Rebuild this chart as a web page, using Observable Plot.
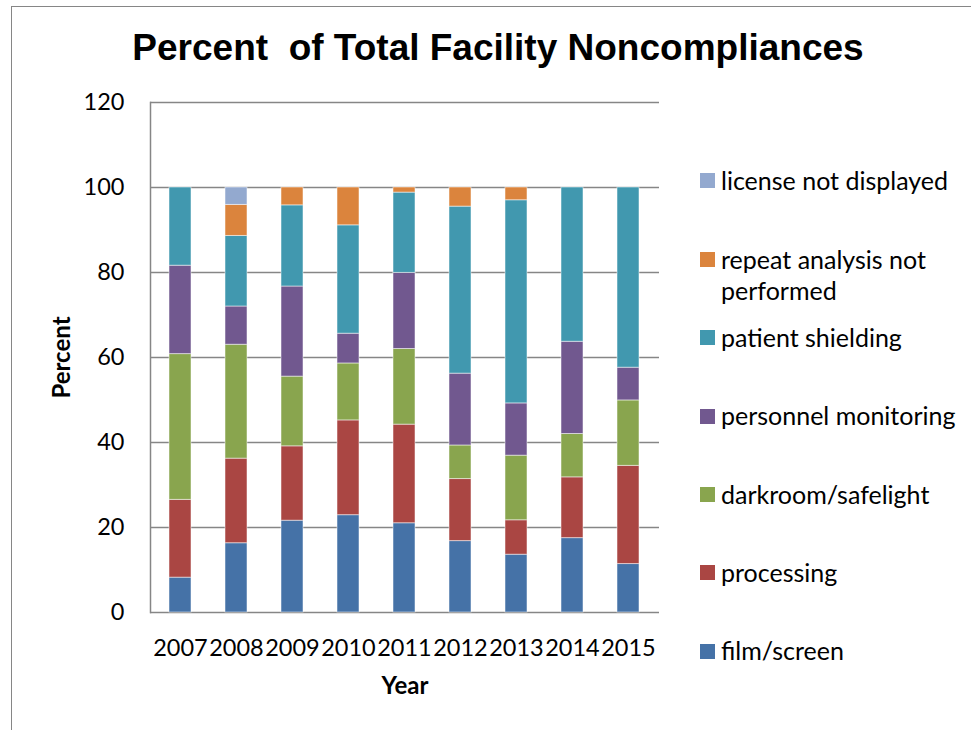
<!DOCTYPE html>
<html>
<head>
<meta charset="utf-8">
<script src="https://cdn.jsdelivr.net/npm/d3@7"></script>
<script src="https://cdn.jsdelivr.net/npm/@observablehq/plot@0.6"></script>
<style>
  html, body { margin: 0; padding: 0; background: #fff; }
  #wrap { position: relative; width: 971px; height: 730px; overflow: hidden; background: #fff; }
  #border { position: absolute; left: 11px; top: 6px; width: 1000px; height: 800px; border: 1.5px solid #868686; box-sizing: border-box; }
  #title { position: absolute; left: 0; width: 996px; top: 28.7px; text-align: center; font-family: "Liberation Sans", Arial, sans-serif; font-weight: bold; font-size: 37px; line-height: 37px; color: #000; white-space: nowrap; }
  #chart { position: absolute; left: 0; top: 0; }
  .leg { position: absolute; left: 700px; font-family: Lato, sans-serif; font-size: 25px; line-height: 31.4px; color: #000; white-space: pre; }
  .leg .sw { position: absolute; left: 0; top: 8.2px; width: 15px; height: 15px; }
  .leg .tx { position: absolute; left: 21px; top: 0; }
</style>
</head>
<body>
<div id="wrap">
  <div id="border"></div>
  <div id="title"></div>
  <div id="chart"></div>
</div>
<script>
const titleText = "Percent\u00a0 of Total Facility Noncompliances";
const years = ["2007", "2008", "2009", "2010", "2011", "2012", "2013", "2014", "2015"];
const seriesNames = ["film/screen", "processing", "darkroom/safelight", "personnel monitoring", "patient shielding", "repeat analysis not performed", "license not displayed"];
const legendLabels = ["license not displayed", "repeat analysis not\nperformed", "patient shielding", "personnel monitoring", "darkroom/safelight", "processing", "film/screen"];
const seriesColors = ["#4572A7", "#AA4643", "#89A54E", "#71588F", "#4198AF", "#DB843D", "#93A9CF"];
const yTicks = [0, 20, 40, 60, 80, 100, 120];

const filmScreen = [8.2, 16.3, 21.6, 22.9, 21.0, 16.8, 13.6, 17.5, 11.4];
const processing = [18.3, 19.9, 17.5, 22.3, 23.2, 14.6, 8.1, 14.3, 23.1];
const darkroom = [34.3, 26.8, 16.4, 13.4, 17.8, 7.9, 15.2, 10.2, 15.4];
const personnel = [20.8, 9.0, 21.2, 7.0, 17.9, 16.9, 12.3, 21.7, 7.7];
const shielding = [18.4, 16.6, 19.1, 25.5, 18.9, 39.3, 47.8, 36.3, 42.4];
const repeatAnalysis = [0, 7.3, 4.2, 8.9, 1.2, 4.5, 3.0, 0, 0];
const licenseNotDisplayed = [0, 4.1, 0, 0, 0, 0, 0, 0, 0];

const seriesValues = [filmScreen, processing, darkroom, personnel, shielding, repeatAnalysis, licenseNotDisplayed];
const rows = [];
seriesNames.forEach((s, i) => {
  years.forEach((y, j) => {
    if (seriesValues[i][j] > 0) rows.push({series: s, year: y, value: seriesValues[i][j]});
  });
});

document.getElementById("title").textContent = titleText;

const plot = Plot.plot({
  width: 971,
  height: 730,
  marginLeft: 150,
  marginRight: 312,
  marginTop: 102,
  marginBottom: 118,
  style: {fontFamily: "Lato, sans-serif", background: "transparent", color: "#000"},
  x: {domain: years, paddingInner: 0.6, paddingOuter: 0.3, axis: null},
  y: {domain: [0, 120], axis: null},
  color: {domain: seriesNames, range: seriesColors},
  marks: [
    Plot.gridY(yTicks, {stroke: "#868686", strokeOpacity: 1, strokeWidth: 1.5}),
    Plot.frame({anchor: "left", stroke: "#868686", strokeWidth: 1.5}),
    Plot.barY(rows, {x: "year", y: "value", fill: "series", order: seriesNames, stroke: "white", strokeOpacity: 0.5, strokeWidth: 1}),
    Plot.axisY(yTicks, {tickSize: 0, tickPadding: 26, fontSize: 23.5, label: null}),
    Plot.axisX({tickSize: 0, tickPadding: 27, fontSize: 23.5, label: null}),
    Plot.text(["Year"], {frameAnchor: "bottom", dy: 74, lineAnchor: "middle", textAnchor: "middle", fontWeight: "bold", fontSize: 24}),
    Plot.text(["Percent"], {frameAnchor: "left", dx: -88, rotate: -90, lineAnchor: "middle", textAnchor: "middle", fontWeight: "bold", fontSize: 24})
  ]
});
document.getElementById("chart").appendChild(plot);

const wrap = document.getElementById("wrap");
legendLabels.forEach((lab, i) => {
  const cy = 181 + i * 78.35;
  const item = document.createElement("div");
  item.className = "leg";
  item.style.top = (cy - 15.7) + "px";
  const sw = document.createElement("div");
  sw.className = "sw";
  const idx = seriesNames.length - 1 - i;
  sw.style.background = seriesColors[idx];
  const tx = document.createElement("div");
  tx.className = "tx";
  tx.textContent = lab;
  item.appendChild(sw);
  item.appendChild(tx);
  wrap.appendChild(item);
});
</script>
</body>
</html>
